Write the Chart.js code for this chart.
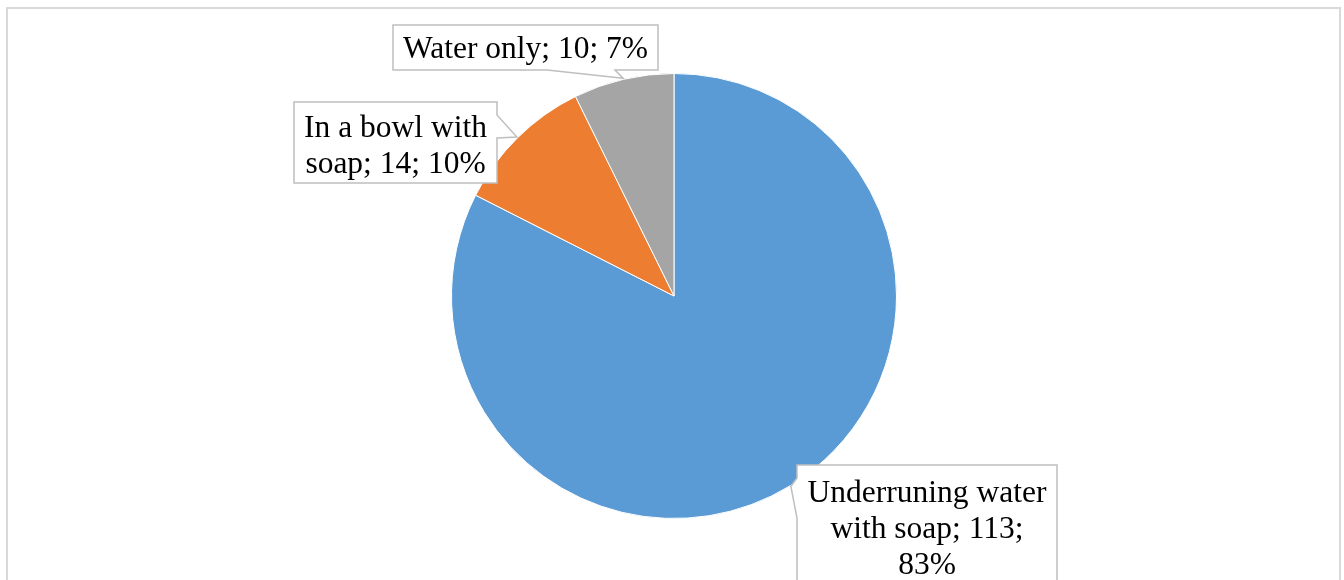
<!DOCTYPE html>
<html>
<head>
<meta charset="utf-8">
<script src="https://cdn.jsdelivr.net/npm/chart.js@4"></script>
<style>
  html, body { margin: 0; padding: 0; background: #fff; }
  #wrap { width: 1344px; height: 580px; }
</style>
</head>
<body>
<div id="wrap"><canvas id="pieChart" width="1344" height="580"></canvas></div>
<script>
// ==============================
// Dados
// ==============================
const categorias = ["Underruning water with soap", "In a bowl with soap", "Water only"];
const valores = [113, 14, 10];
const percentuais = ["83%", "10%", "7%"];
const cores = ["#5B9BD5", "#ED7D31", "#A5A5A5"];

// linhas de texto de cada rótulo (como no original)
const rotulos = [
  ["Underruning water", "with soap; 113;", "83%"],
  ["In a bowl with", "soap; 14; 10%"],
  ["Water only; 10; 7%"],
];

// caixas dos rótulos: posição da caixa e onde sai a "setinha"
const caixas = [
  { x: 797, y: 465, w: 260, h: 140, lado: "left", a: 478, b: 518, topo: 29 },
  { x: 294, y: 102, w: 203, h: 81, lado: "right", a: 115, b: 138, topo: 27 },
  { x: 393, y: 25, w: 265, h: 45, lado: "bottom", a: 547, b: 615, topo: 25 },
];

// ==============================
// Plugin: moldura + rótulos com chamada
// ==============================
const calloutPlugin = {
  id: "callouts",
  afterDraw(chart) {
    const ctx = chart.ctx;
    ctx.save();

    // moldura externa
    ctx.strokeStyle = "#d9d9d9";
    ctx.lineWidth = 2;
    ctx.strokeRect(7, 8, 1333, 620);

    const arcs = chart.getDatasetMeta(0).data;
    arcs.forEach((arc, i) => {
      const c = caixas[i];
      const mid = (arc.startAngle + arc.endAngle) / 2;
      const tx = arc.x + Math.cos(mid) * (arc.outerRadius + 1);
      const ty = arc.y + Math.sin(mid) * (arc.outerRadius + 1);

      const x1 = c.x, y1 = c.y, x2 = c.x + c.w, y2 = c.y + c.h;
      ctx.beginPath();
      ctx.moveTo(x1, y1);
      ctx.lineTo(x2, y1);
      if (c.lado === "right") {
        ctx.lineTo(x2, c.a);
        ctx.lineTo(tx, ty);
        ctx.lineTo(x2, c.b);
      }
      ctx.lineTo(x2, y2);
      if (c.lado === "bottom") {
        ctx.lineTo(c.b, y2);
        ctx.lineTo(tx, ty);
        ctx.lineTo(c.a, y2);
      }
      ctx.lineTo(x1, y2);
      if (c.lado === "left") {
        ctx.lineTo(x1, c.b);
        ctx.lineTo(tx, ty);
        ctx.lineTo(x1, c.a);
      }
      ctx.closePath();
      ctx.fillStyle = "#fff";
      ctx.fill();
      ctx.strokeStyle = "#bfbfbf";
      ctx.lineWidth = 1.5;
      ctx.stroke();

      // texto
      ctx.fillStyle = "#000";
      ctx.font = '31.5px "Liberation Serif", "Times New Roman", serif';
      ctx.textAlign = "center";
      ctx.textBaseline = "middle";
      rotulos[i].forEach((linha, j) => {
        ctx.fillText(linha, x1 + c.w / 2, y1 + c.topo + j * 36);
      });
    });

    ctx.restore();
  },
};

// ==============================
// Gráfico de pizza
// ==============================
const ctx = document.getElementById("pieChart");
new Chart(ctx, {
  type: "pie",
  data: {
    labels: categorias,
    datasets: [
      {
        data: valores,
        backgroundColor: cores,
        borderColor: "#fff",
        borderWidth: 1,
        hoverOffset: 0,
      },
    ],
  },
  options: {
    responsive: false,
    animation: false,
    layout: {
      padding: { top: 73, bottom: 61, left: 4, right: 0 },
    },
    plugins: {
      legend: { display: false },
      tooltip: { enabled: false },
    },
  },
  plugins: [calloutPlugin],
});
</script>
</body>
</html>
